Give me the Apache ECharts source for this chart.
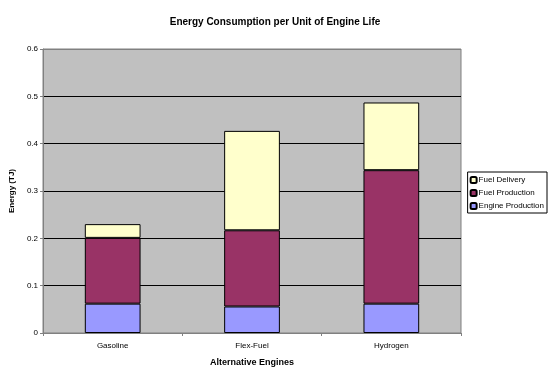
<!DOCTYPE html>
<html>
<head>
<meta charset="utf-8">
<title>Energy Consumption per Unit of Engine Life</title>
<script src="https://cdn.jsdelivr.net/npm/echarts@6/dist/echarts.min.js"></script>
<style>
	html, body { margin: 0; padding: 0; background: #fff; }
	#container { width: 550px; height: 376px; }
</style>
</head>
<body>
<div id="container"></div>
<script>
// data
var engines = ['Gasoline', 'Flex-Fuel', 'Hydrogen'];
var engineProduction = [0.062, 0.056, 0.062];
var fuelProduction = [0.139, 0.161, 0.282];
var fuelDelivery = [0.029, 0.210, 0.143];

var myChart = echarts.init(document.getElementById('container'));

var barStyle = function (color) {
	return { color: color, borderColor: '#000', borderWidth: 1 };
};

myChart.setOption({
	animation : false,
	textStyle : { fontFamily : 'Arial, Liberation Sans, sans-serif' },
	title : {
		text : 'Energy Consumption per Unit of Engine Life',
		left : 'center',
		top : 12,
		textStyle : { fontSize : 10, fontWeight : 'bold', color : '#000' }
	},
	legend : {
		orient : 'vertical',
		right : 3,
		top : 172,
		data : [ 'Fuel Delivery', 'Fuel Production', 'Engine Production' ],
		itemWidth : 6,
		itemHeight : 6,
		itemGap : 5,
		padding : [ 4, 3, 3, 2 ],
		borderColor : '#000',
		borderWidth : 1,
		textStyle : { fontSize : 8, color : '#000', padding : [ 0, 0, 0, -3 ] }
	},
	grid : {
		left : 42,
		right : 89,
		top : 49,
		bottom : 43,
		show : true,
		backgroundColor : '#c0c0c0',
		borderColor : '#808080',
		borderWidth : 1
	},
	xAxis : {
		type : 'category',
		data : engines,
		name : 'Alternative Engines',
		nameLocation : 'middle',
		nameGap : 25,
		nameTextStyle : { fontSize : 9, fontWeight : 'bold', color : '#000' },
		axisLine : { lineStyle : { color : '#808080', width : 1 } },
		axisTick : { show : true, length : 3, lineStyle : { color : '#808080' } },
		axisLabel : { fontSize : 8, color : '#000', margin : 9 }
	},
	yAxis : {
		type : 'value',
		min : 0,
		max : 0.6,
		interval : 0.1,
		name : 'Energy (TJ)',
		nameLocation : 'middle',
		nameGap : 24,
		nameTextStyle : { fontSize : 8, fontWeight : 'bold', color : '#000' },
		axisLine : { show : true, lineStyle : { color : '#808080', width : 1 } },
		axisTick : { show : true, length : 3, lineStyle : { color : '#808080' } },
		axisLabel : { fontSize : 8, color : '#000', margin : 5 },
		splitLine : { lineStyle : { color : [ '#000', '#000', '#000', '#000', '#000', '#000', '#808080' ], width : 1 } }
	},
	series : [ {
		name : 'Engine Production',
		type : 'bar',
		stack : 'total',
		barWidth : '40%',
		itemStyle : barStyle('#9999ff'),
		data : engineProduction
	}, {
		name : 'Fuel Production',
		type : 'bar',
		stack : 'total',
		itemStyle : barStyle('#993366'),
		data : fuelProduction
	}, {
		name : 'Fuel Delivery',
		type : 'bar',
		stack : 'total',
		itemStyle : barStyle('#ffffcc'),
		data : fuelDelivery
	} ]
});
</script>
</body>
</html>
